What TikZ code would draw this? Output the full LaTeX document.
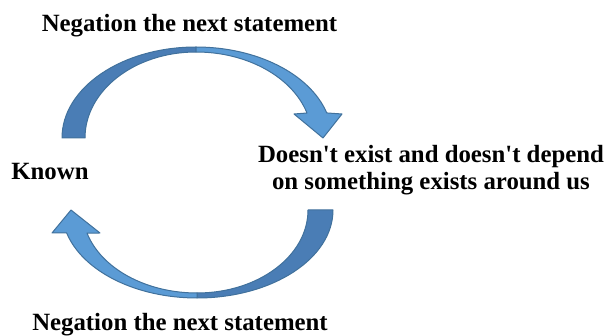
\documentclass[tikz,border=0pt]{standalone}
\usepackage{fontspec}
\setmainfont{Liberation Serif}
\definecolor{darkband}{HTML}{4A7DB5}
\definecolor{lightband}{HTML}{5B9BD5}
\definecolor{bandedge}{HTML}{41719C}
\begin{document}
\begin{tikzpicture}[x=1pt,y=1pt,
  lbl/.style={font=\fontsize{24.8}{27}\selectfont\bfseries, inner sep=0pt, text=black},
  darkpart/.style={fill=darkband, draw=bandedge, line width=1pt, line join=round},
  lightpart/.style={fill=lightband, draw=bandedge, line width=1pt, line join=round}]
\useasboundingbox (0,0) rectangle (611,335);
% top curved arrow
\begin{scope}[shift={(196,197)}]
\draw[darkpart] (180:134pt and 91pt) arc[start angle=180,end angle=90,x radius=134pt,y radius=91pt]
  -- (90:111pt and 86pt) arc[start angle=90,end angle=180,x radius=111pt,y radius=86pt] -- cycle;
\draw[lightpart] (90:136pt and 91pt) arc[start angle=90,end angle=16,x radius=136pt,y radius=91pt]
  -- (146,24) -- (127,0) -- (98,24)
  -- (16.9:116pt and 86pt) arc[start angle=16.9,end angle=90,x radius=116pt,y radius=86pt] -- cycle;
\end{scope}
% bottom curved arrow
\begin{scope}[shift={(197,125)}]
\draw[darkpart] (0:136pt and 88pt) arc[start angle=0,end angle=-90,x radius=136pt,y radius=88pt]
  -- (-90:111pt and 83pt) arc[start angle=-90,end angle=0,x radius=111pt,y radius=83pt] -- cycle;
\draw[lightpart] (-90:135pt and 88pt) arc[start angle=-90,end angle=-164.9,x radius=135pt,y radius=88pt]
  -- (-145,-23) -- (-126,0) -- (-97,-23)
  -- (-163.9:114.5pt and 83pt) arc[start angle=-163.9,end angle=-90,x radius=114.5pt,y radius=83pt] -- cycle;
\end{scope}
\node[lbl, anchor=base] (negtop) at (189.5,303) {Negation the next statement};
\node[lbl, anchor=base] (negbot) at (180,5) {Negation the next statement};
\node[lbl, anchor=base] (known) at (50,155) {Known};
\node[lbl, align=center] (doesnt) at (431,164.5) {Doesn\textquotesingle t exist and doesn\textquotesingle t depend\\on something exists around us};
\end{tikzpicture}
\end{document}
